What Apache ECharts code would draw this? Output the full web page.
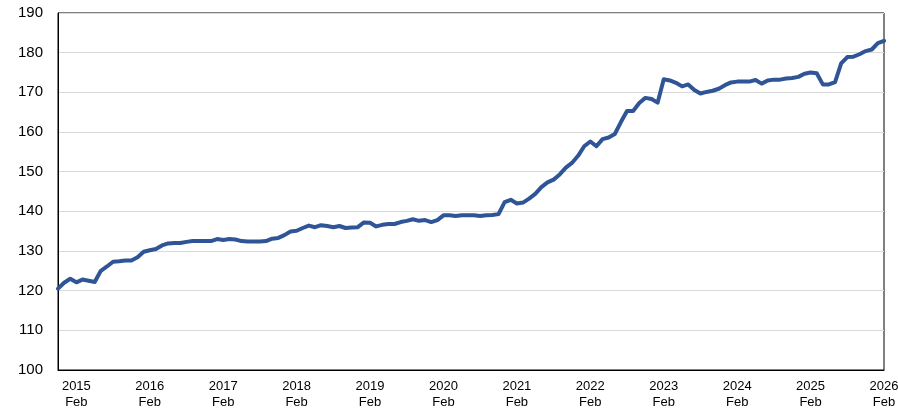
<!DOCTYPE html>
<html>
<head>
<meta charset="utf-8">
<script src="https://cdn.jsdelivr.net/npm/echarts@6/dist/echarts.min.js"></script>
<style>html,body{margin:0;padding:0;background:#fff}#c{width:898px;height:411px}</style>
</head>
<body>
<div id="c"></div>
<script>
// Monthly series, Nov 2014 .. Feb 2026
const startYear = 2014, startMonth = 11;
const monthNames = ['Jan','Feb','Mar','Apr','May','Jun','Jul','Aug','Sep','Oct','Nov','Dec'];
const values = [
  120.5,122.0,123.0,122.1,122.8,122.5,122.2,125.0,126.1,127.3,
  127.4,127.6,127.6,128.4,129.8,130.2,130.5,131.4,131.9,132.0,
  132.0,132.3,132.5,132.5,132.5,132.5,133.0,132.8,133.0,132.9,
  132.5,132.4,132.4,132.4,132.5,133.1,133.3,134.0,134.9,135.1,
  135.8,136.4,136.0,136.5,136.3,136.0,136.3,135.8,135.9,136.0,
  137.2,137.1,136.2,136.6,136.8,136.8,137.3,137.6,138.0,137.6,
  137.8,137.3,137.8,139.0,139.0,138.8,139.0,139.0,139.0,138.8,
  139.0,139.1,139.3,142.3,142.9,142.0,142.2,143.2,144.4,146.1,
  147.3,148.0,149.3,151.0,152.2,154.0,156.4,157.6,156.4,158.2,
  158.6,159.5,162.5,165.3,165.3,167.3,168.6,168.3,167.4,173.3,
  173.0,172.4,171.5,172.0,170.6,169.7,170.1,170.4,170.9,171.8,
  172.5,172.7,172.7,172.7,173.1,172.2,173.0,173.2,173.2,173.5,
  173.6,173.9,174.7,175.0,174.8,172.0,172.0,172.6,177.3,178.9,
  179.0,179.6,180.4,180.8,182.4,183.0
];
const categories = [];
for (let i = 0; i < values.length; i++) {
  const m = (startMonth - 1 + i) % 12;
  const y = startYear + Math.floor((startMonth - 1 + i) / 12);
  categories.push(y + '|' + monthNames[m]);
}
const yMin = 100, yMax = 190, yStep = 10;

const chart = echarts.init(document.getElementById('c'), null, {renderer: 'canvas'});
chart.setOption({
  animation: false,
  backgroundColor: '#ffffff',
  grid: {left: 58, right: 14, top: 13, bottom: 41, show: true, borderColor: '#000', borderWidth: 1,
         backgroundColor: 'transparent', containLabel: false, outerBoundsMode: 'none'},
  xAxis: {
    type: 'category',
    data: categories,
    boundaryGap: false,
    axisLine: {show: true, lineStyle: {color: '#000', width: 1}},
    axisTick: {show: false},
    splitLine: {show: false},
    axisLabel: {
      interval: function (idx, val) { return val.split('|')[1] === 'Feb'; },
      formatter: function (val) { const p = val.split('|'); return p[0] + '\n' + p[1]; },
      color: '#000',
      fontFamily: 'Liberation Sans, Arial, sans-serif',
      fontSize: 13,
      lineHeight: 16,
      margin: 8,
      hideOverlap: false
    }
  },
  yAxis: {
    type: 'value',
    min: yMin, max: yMax, interval: yStep,
    axisLine: {show: true, lineStyle: {color: '#000', width: 1}},
    axisTick: {show: false},
    splitLine: {show: true, lineStyle: {color: '#d9d9d9', width: 1}},
    axisLabel: {
      color: '#000',
      fontFamily: 'Liberation Sans, Arial, sans-serif',
      fontSize: 15,
      margin: 15
    }
  },
  series: [{
    type: 'line',
    data: values,
    showSymbol: false,
    symbol: 'none',
    smooth: false,
    lineStyle: {color: '#2f5597', width: 4, join: 'round', cap: 'round'},
    itemStyle: {color: '#2f5597'}
  }]
});
</script>
</body>
</html>
